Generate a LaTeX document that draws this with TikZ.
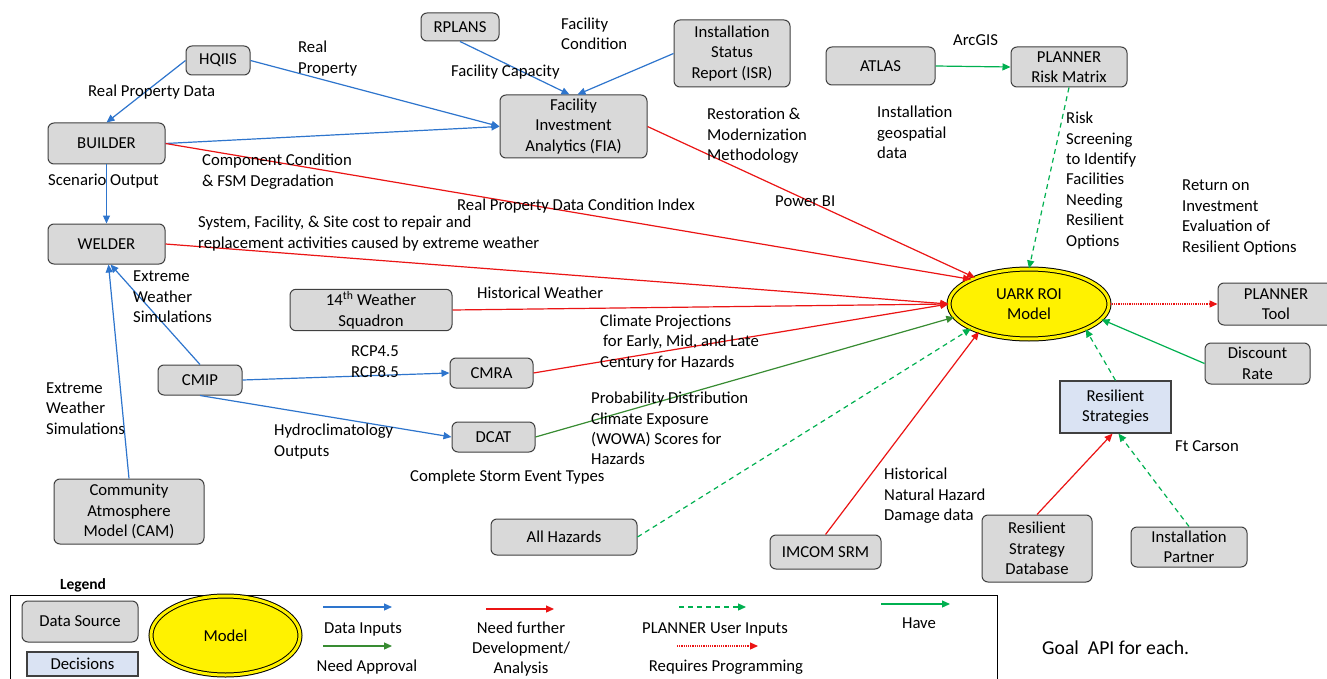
\documentclass[tikz,border=0pt]{standalone}
\usepackage{fontspec}
\setmainfont{Carlito}
\usetikzlibrary{arrows.meta,shapes.geometric}
\definecolor{cblue}{RGB}{46,117,205}
\definecolor{cred}{RGB}{235,20,20}
\definecolor{cgreen}{RGB}{0,176,80}
\definecolor{dgreen}{RGB}{56,140,50}
\definecolor{boxfill}{RGB}{217,217,217}
\definecolor{decfill}{RGB}{218,227,243}
\begin{document}
\begin{tikzpicture}[x=1pt,y=-1pt,
  font=\fontsize{16.7}{20.4}\selectfont,
  src/.style={draw=black!75, fill=boxfill, rounded corners=6pt, line width=1pt, align=center, inner sep=2pt},
  dec/.style={draw=black!75, fill=decfill, line width=1.2pt, align=center, inner sep=2pt},
  mdl/.style={ellipse, draw=black, double=yellow, double distance=3pt, line width=1pt, fill=yellow, align=center, inner sep=0pt},
  lbl/.style={anchor=west, align=left, inner sep=0pt, yshift=-1.5pt},
  ctr/.style={align=center, inner sep=0pt, yshift=-1pt},
  arr/.style={line width=1.2pt, -{Triangle[length=8pt,width=7pt]}},
  blu/.style={arr, draw=cblue},
  rd/.style={arr, draw=cred},
  gr/.style={arr, draw=cgreen},
  dg/.style={arr, draw=dgreen},
  grd/.style={arr, draw=cgreen, dash pattern=on 5pt off 4pt},
  rdot/.style={arr, draw=cred, dash pattern=on 1.2pt off 1pt}
]
\useasboundingbox (0,0) rectangle (1327,679);
\fill[white] (0,0) rectangle (1327,679);

% nodes
\node[src, minimum width=64pt, minimum height=29pt] (hqiis) at (218,60.5) {HQIIS};
\node[src, minimum width=117pt, minimum height=41pt] (builder) at (106.5,143.5) {BUILDER};
\node[src, minimum width=117pt, minimum height=40pt] (welder) at (106.5,244) {WELDER};
\node[src, minimum width=78pt, minimum height=28pt] (rplans) at (460,27) {RPLANS};
\node[src, minimum width=116pt, minimum height=67pt] (isr) at (732,53.5) {Installation\\Status\\Report (ISR)};
\node[src, minimum width=147pt, minimum height=63pt] (fia) at (573.5,126.5) {Facility\\Investment\\Analytics (FIA)};
\node[src, minimum width=109pt, minimum height=38pt] (atlas) at (880.5,66) {ATLAS};
\node[src, minimum width=116pt, minimum height=40pt] (prm) at (1069,67) {PLANNER\\Risk Matrix};
\node[mdl, minimum width=160pt, minimum height=70pt] (uark) at (1029,304) {UARK ROI\\Model};
\node[src, minimum width=116pt, minimum height=42pt] (ptool) at (1276,304) {PLANNER\\Tool};
\node[src, minimum width=105pt, minimum height=41pt] (disc) at (1257.5,363.5) {Discount\\Rate};
\node[dec, minimum width=111pt, minimum height=52pt] (rs) at (1115.5,407) {Resilient\\Strategies};
\node[src, minimum width=110pt, minimum height=67pt] (rsd) at (1037,548.5) {Resilient\\Strategy\\Database};
\node[src, minimum width=116pt, minimum height=40pt] (ip) at (1189,547) {Installation\\Partner};
\node[src, minimum width=111pt, minimum height=34pt] (imcom) at (825.5,552) {IMCOM SRM};
\node[src, minimum width=146pt, minimum height=36pt] (allh) at (564,537) {All Hazards};
\node[src, minimum width=162pt, minimum height=41pt] (w14) at (371,310) {14\textsuperscript{th} Weather\\Squadron};
\node[src, minimum width=84pt, minimum height=30pt] (cmip) at (200,380) {CMIP};
\node[src, minimum width=83pt, minimum height=30pt] (cmra) at (491.5,373) {CMRA};
\node[src, minimum width=83pt, minimum height=30pt] (dcat) at (493.5,437) {DCAT};
\node[src, minimum width=150pt, minimum height=65pt] (cam) at (129,511.5) {Community\\Atmosphere\\Model (CAM)};

% connectors
\draw[blu] (hqiis.west) -- (builder.north);
\draw[blu] (hqiis.east) -- (fia.west);
\draw[blu] (builder.east) -- (fia.west);
\draw[blu] (rplans.south) -- ([xshift=-4pt]fia.north);
\draw[blu] (isr.west) -- ([xshift=4pt]fia.north);
\draw[blu] (builder.south) -- (welder.north);
\draw[rd] (builder.east) -- (uark.157);
\draw[rd] (fia.east) -- (uark.154);
\draw[rd] (welder.east) -- (uark.west);
\draw[rd] (w14.east) -- (uark.west);
\draw[rd] (cmra.east) -- (uark.west);
\draw[dg] (dcat.east) -- (uark.190);
\draw[blu] (cmip.north) -- ([xshift=4pt]welder.south);
\draw[blu] (cam.north) -- ([xshift=2pt]welder.south);
\draw[blu] (cmip.east) -- (cmra.west);
\draw[blu] (cmip.south) -- (dcat.west);
\draw[grd] (allh.east) -- (uark.203);
\draw[rd] (imcom.north) -- (uark.209);
\draw[grd] (rs.north) -- (uark.336);
\draw[gr] (disc.west) -- (uark.348);
\draw[rdot] (uark.east) -- (ptool.west);
\draw[rd] (rsd.north) -- ([xshift=-3pt]rs.south);
\draw[grd] (ip.north) -- ([xshift=3pt]rs.south);
\draw[grd] (prm.south) -- (uark.north);
\draw[gr] (atlas.east) -- (prm.west);

% labels
\node[lbl] (l1) at (88,91) {Real Property Data};
\node[lbl] (l2) at (298,57) {Real\\Property};
\node[lbl] (l3) at (561,32) {Facility\\Condition};
\node[lbl] (l4) at (451,71) {Facility Capacity};
\node[lbl] (l5) at (202,170) {Component Condition\\\& FSM Degradation};
\node[lbl] (l6) at (48,180) {Scenario Output};
\node[lbl] (l7) at (707,134.5) {Restoration \&\\Modernization\\Methodology};
\node[lbl] (l8) at (775,200) {Power BI};
\node[lbl] (l9) at (457,205) {Real Property Data Condition Index};
\node[lbl] (l10) at (198,232) {System, Facility, \& Site cost to repair and\\replacement activities caused by extreme weather};
\node[lbl] (l11) at (953,39) {ArcGIS};
\node[lbl] (l12) at (877,131) {Installation\\geospatial\\data};
\node[lbl] (l13) at (1066,179) {Risk\\Screening\\to Identify\\Facilities\\Needing\\Resilient\\Options};
\node[lbl] (l14) at (1182,216) {Return on\\Investment\\Evaluation of\\Resilient Options};
\node[lbl] (l15) at (133,295.5) {Extreme\\Weather\\Simulations};
\node[lbl] (l16) at (46,407) {Extreme\\Weather\\Simulations};
\node[lbl] (l17) at (477,291) {Historical Weather};
\node[lbl] (l18) at (600,341) {Climate Projections\\\hspace{3pt}for Early, Mid, and Late\\Century for Hazards};
\node[lbl] (l19) at (351,360) {RCP4.5\\RCP8.5};
\node[lbl] (l20) at (591,427) {Probability Distribution\\Climate Exposure\\(WOWA) Scores for\\Hazards};
\node[lbl] (l21) at (274,440) {Hydroclimatology\\Outputs};
\node[lbl] (l22) at (410,476) {Complete Storm Event Types};
\node[lbl] (l23) at (884,494.5) {Historical\\Natural Hazard\\Damage data};
\node[lbl] (l24) at (1175,445) {Ft Carson};
\node[lbl, font=\fontsize{19.7}{24}\selectfont] (l25) at (1042,646) {Goal\ \ API for each.};

% legend
\node[ctr, font=\bfseries\fontsize{15.5}{18}\selectfont] (lg) at (83,584) {Legend};
\draw[line width=1pt] (10,595) rectangle (997,690);
\node[src, minimum width=116pt, minimum height=41pt] (dsrc) at (80,621.5) {Data Source};
\node[dec, minimum width=111pt, minimum height=24pt] (decn) at (82.5,664) {Decisions};
\node[mdl, minimum width=149pt, minimum height=79pt] (lmodel) at (225.5,635.5) {Model};
\coordinate (a1s) at (323,607); \coordinate (a1e) at (392,607);
\coordinate (a2s) at (323,646); \coordinate (a2e) at (392,646);
\coordinate (a3s) at (486,609); \coordinate (a3e) at (554,609);
\coordinate (a4s) at (679,607); \coordinate (a4e) at (746,607);
\coordinate (a5s) at (677,646); \coordinate (a5e) at (758,646);
\coordinate (a6s) at (881,604); \coordinate (a6e) at (950,604);
\draw[blu] (a1s) -- (a1e);
\draw[dg] (a2s) -- (a2e);
\draw[rd] (a3s) -- (a3e);
\draw[grd] (a4s) -- (a4e);
\draw[rdot] (a5s) -- (a5e);
\draw[gr] (a6s) -- (a6e);
\node[ctr] (t1) at (363,628) {Data Inputs};
\node[ctr] (t2) at (367,666) {Need Approval};
\node[ctr] (t3) at (521,648) {Need further\\Development/\\Analysis};
\node[ctr] (t4) at (715,628) {PLANNER User Inputs};
\node[ctr] (t5) at (726,666) {Requires Programming};
\node[ctr] (t6) at (919,622) {Have};
\end{tikzpicture}
\end{document}
